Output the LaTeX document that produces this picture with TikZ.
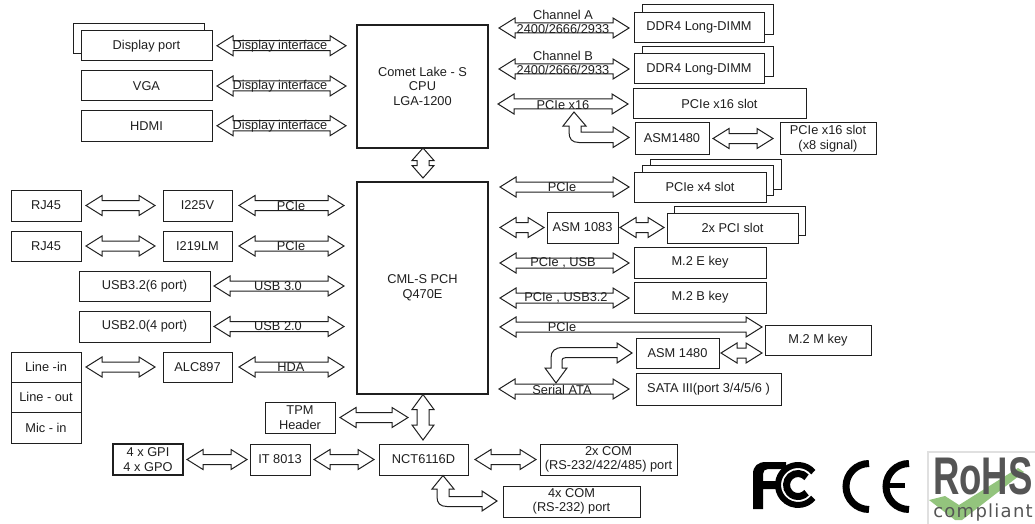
\documentclass[tikz,border=0pt]{standalone}
\usepackage{fontspec}
\usepackage{graphicx}
\setmainfont{Liberation Sans}
\newfontfamily\compfont[LetterSpace=7]{DejaVu Sans}
\usetikzlibrary{calc}
\definecolor{ink}{gray}{0.12}
\definecolor{rohsgray}{HTML}{555555}
\definecolor{rohsgreen}{HTML}{93C47D}
\tikzset{
  x=1pt,y=-1pt,
  every node/.style={font=\fontsize{12.8}{14.5}\selectfont,text=ink,inner sep=0pt,align=center},
  bx/.style={draw=ink,line width=1pt,fill=white},
  hub/.style={draw=ink,line width=2pt,fill=white},
  barrow/.style={draw=ink,line width=1pt,fill=white,line join=miter},
  logostroke/.style={draw=black,line cap=butt},
}
\newcommand\boxat[7][bx]{%
  \path[#1] (#3,#4) rectangle (#5,#6);
  \coordinate (#2w) at (#3,{(#4+#6)/2});
  \node (#2) at ({(#3+#5)/2},{(#4+#6)/2}) {#7};
  \coordinate (#2n) at ({(#3+#5)/2},#4);
  \coordinate (#2s) at ({(#3+#5)/2},#6);
  \coordinate (#2e) at (#5,{(#4+#6)/2});
}
% horizontal double block arrow: from coordinate #1 (+#2) to coordinate #3 (+#4), keeps y of the first, y shift #5
\newcommand\harr[5]{%
  \draw[barrow] let \p1=($(#1)+(#2,#5)$), \p2=($(#3)+(#4,0)$) in
    (\x1,\y1) -- (\x1+16pt,\y1+10pt) -- (\x1+16pt,\y1+5pt) -- (\x2-16pt,\y1+5pt)
    -- (\x2-16pt,\y1+10pt) -- (\x2,\y1) -- (\x2-16pt,\y1-10pt) -- (\x2-16pt,\y1-5pt)
    -- (\x1+16pt,\y1-5pt) -- (\x1+16pt,\y1-10pt) -- cycle;}
% vertical double block arrow: #1 lower tip, #2 upper tip, #3 head length
\newcommand\varr[3]{%
  \draw[barrow] let \p1=($(#1)+(0,0)$), \p2=($(#2)+(0,0)$) in
    (\x1,\y1) -- (\x1+11pt,\y1+#3pt) -- (\x1+6pt,\y1+#3pt) -- (\x1+6pt,\y2-#3pt)
    -- (\x1+11pt,\y2-#3pt) -- (\x1,\y2) -- (\x1-11pt,\y2-#3pt) -- (\x1-6pt,\y2-#3pt)
    -- (\x1-6pt,\y1+#3pt) -- (\x1-11pt,\y1+#3pt) -- cycle;}
\begin{document}
\begin{tikzpicture}
\useasboundingbox (0,0) rectangle (1035,524);
\fill[white] (0,0) rectangle (1035,524);

% ---- left display column
\draw[bx] (73,24) rectangle (204,54);
\boxat{dp}{81}{30.5}{212}{61}{Display port}
\boxat{vga}{81}{71}{212}{101}{VGA}
\boxat{hdmi}{81}{110.5}{212}{141}{HDMI}

% ---- hubs
\boxat[hub]{cpu}{357}{25}{488}{147.5}{Comet Lake - S\\CPU\\LGA-1200}
\boxat[hub]{pch}{357}{182}{488}{393.5}{CML-S PCH\\Q470E}

\harr{dpe}{5}{cpuw}{-11}{0}
\harr{vgae}{5}{cpuw}{-11}{0}
\harr{hdmie}{5}{cpuw}{-11}{0}
\node at (280,46) {Display interface};
\node at (280,86) {Display interface};
\node at (280,126) {Display interface};

\coordinate (cpub) at (423,148);
\coordinate (pcht) at (423,178);
\varr{pcht}{cpub}{12.5}

% ---- memory
\draw[bx] (642,5) rectangle (773,35);
\boxat{dimma}{634}{12.5}{764}{43}{DDR4 Long-DIMM}
\draw[bx] (642,47) rectangle (773,77);
\boxat{dimmb}{634}{54}{764}{84}{DDR4 Long-DIMM}
\coordinate (ca) at (488,28);
\coordinate (cb) at (488,69);
\harr{ca}{11}{dimmaw}{-5}{0}
\harr{cb}{11}{dimmbw}{-5}{0}
\node at (563,14.5) {Channel A};
\node at (563,56) {Channel B};
\node at (563,28.5) {2400/2666/2933};
\node at (563,69.5) {2400/2666/2933};

% ---- PCIe x16
\boxat{xvi}{633}{89}{806}{119}{PCIe x16 slot}
\boxat{asma}{635}{123}{709}{154}{ASM1480}
\boxat{xviii}{780}{123}{876}{154}{PCIe x16 slot\\(x8 signal)}
\coordinate (xl) at (488,104);
\harr{xl}{10}{xviw}{-5}{0}
\node at (563,105) {PCIe x16};
\draw[barrow] (574,112) -- (586,126) -- (581,126) -- (581,132) -- (613,132)
  -- (613,127) -- (629,137.5) -- (613,147.5) -- (613,142.5) -- (579,142.5)
  .. controls (572,142.5) and (569,139) .. (569,132) -- (569,126) -- (563,126) -- cycle;
\harr{asmae}{4}{xviiiw}{-7}{0}

% ---- PCIe x4
\draw[bx] (650,159) rectangle (781,189);
\draw[bx] (642,165) rectangle (773,195);
\boxat{xiv}{634}{172}{766}{202}{PCIe x4 slot}
\coordinate (pa) at (488,187);
\harr{pa}{12}{xivw}{-5}{0}
\node at (562,187.5) {PCIe};

% ---- ASM 1083, PCI
\boxat{asmb}{547}{212}{618}{243}{ASM 1083}
\draw[bx] (674,206) rectangle (805,235);
\boxat{pci}{667}{213}{798}{243}{2x PCI slot}
\coordinate (pb) at (488,227.5);
\harr{pb}{12}{asmbw}{-3}{0}
\harr{asmbe}{2}{pciw}{-3}{0}

% ---- M.2
\boxat{mek}{634}{247}{766}{278}{M.2 E key}
\boxat{mbk}{634}{282}{766}{313}{M.2 B key}
\coordinate (pe) at (488,263);
\coordinate (pf) at (488,298);
\harr{pe}{12}{mekw}{-5}{0}
\harr{pf}{12}{mbkw}{-5}{0}
\node at (563,263) {PCIe , USB};
\node at (566,298) {PCIe , USB3.2};

\boxat{mmk}{765}{325}{871}{355}{M.2 M key}
\coordinate (pg) at (488,327);
\harr{pg}{12}{mmkw}{-3}{0}
\node at (562,327.5) {PCIe};

\boxat{asmc}{636}{338}{719}{368}{ASM 1480}
\coordinate (mmkl) at (765,353);
\harr{asmce}{2}{mmkl}{-3}{0}
\draw[barrow] (556,383) -- (567,368) -- (562,368) -- (562,362)
  .. controls (562,358.5) and (563,357.5) .. (566,357.5) -- (617,357.5) -- (617,363) -- (632,353)
  -- (617,343) -- (617,347.5) -- (563,347.5)
  .. controls (555,347.5) and (551,351) .. (551,358) -- (551,368) -- (545,368) -- cycle;

\boxat{sata}{636}{373}{781}{405}{SATA III(port 3/4/5/6 )}
\coordinate (ph) at (488,389);
\harr{ph}{11}{sataw}{-7}{0}
\node at (562,389.5) {Serial ATA};

% ---- LAN
\boxat{rja}{11}{190}{81}{221}{RJ45}
\boxat{rjb}{11}{231}{81}{261}{RJ45}
\boxat{lana}{163}{190}{232}{221}{I225V}
\boxat{lanb}{163}{231}{232}{261}{I219LM}
\harr{rjae}{5}{lanaw}{-8}{0}
\harr{rjbe}{5}{lanbw}{-8}{0}
\harr{lanae}{7}{pchw}{-13}{0}
\harr{lanbe}{7}{pchw}{-13}{0}
\node at (291,206.5) {PCIe};
\node at (291,246.5) {PCIe};

% ---- USB
\boxat{usba}{79}{271}{210}{301}{USB3.2(6 port)}
\boxat{usbb}{79}{311}{210}{342}{USB2.0(4 port)}
\harr{usbae}{4}{pchw}{-13}{0}
\harr{usbbe}{4}{pchw}{-13}{0}
\node at (278,286) {USB 3.0};
\node at (278,326.5) {USB 2.0};

% ---- audio
\boxat{lin}{11}{352}{81}{382}{Line -in}
\boxat{lout}{11}{382}{81}{412}{Line - out}
\boxat{mic}{11}{412}{81}{443}{Mic - in}
\boxat{alc}{163}{352}{232}{382}{ALC897}
\harr{line}{5}{alcw}{-8}{0}
\harr{alce}{7}{pchw}{-13}{0}
\node at (291,367) {HDA};

% ---- bottom row
\boxat{tpm}{265}{402}{335}{433}{TPM\\Header}
\coordinate (tpmr) at (408,417);
\harr{tpme}{5}{tpmr}{0}{0}
\boxat{nct}{379}{444}{468}{475}{NCT6116D}
\coordinate (pchb) at (423,394.5);
\coordinate (nctt) at (423,440);
\varr{nctt}{pchb}{15}
\boxat{ite}{250}{444}{310}{475}{IT 8013}
\boxat[bx,line width=1.6pt]{gpi}{113}{444}{183}{475}{4 x GPI\\4 x GPO}
\harr{gpie}{4}{itew}{-3}{0}
\harr{itee}{4}{nctw}{-5}{0}
\boxat{coma}{540}{444}{677}{475}{2x COM\\(RS-232/422/485) port}
\boxat{comb}{503}{486}{640}{517}{4x COM\\(RS-232) port}
\harr{ncte}{7}{comaw}{-4}{0}
\draw[barrow] (443,475.5) -- (454,489) -- (449,489) -- (449,496.5) -- (482,496.5) -- (482,491)
  -- (497,501) -- (482,511) -- (482,506.5) -- (447,506.5)
  .. controls (440,506.5) and (437,503) .. (437,497) -- (437,489) -- (432,489) -- cycle;

% ---- logos: FCC
\fill[black] (753,509) -- (753,474) .. controls (753,466) and (758,462) .. (766,462)
  -- (786,462) -- (786,469) -- (768,469) .. controls (765,469) and (763,471) .. (763,474)
  -- (763,481) -- (777,481) -- (777,489) -- (763,489) -- (763,509) -- cycle;
\draw[logostroke,line width=6pt] ({798+20*cos(40)},{485-20*sin(40)}) arc[start angle=40,end angle=320,radius=20pt];
\draw[logostroke,line width=7pt] ({798+11.5*cos(42)},{485-11.5*sin(42)}) arc[start angle=42,end angle=318,radius=11.5pt];
% ---- logos: CE
\draw[logostroke,line width=7pt] (869,463.5) arc[start angle=90,end angle=270,radius=23pt];
\draw[logostroke,line width=7pt] (909,463.5) arc[start angle=90,end angle=270,radius=23pt];
\draw[logostroke,line width=5pt] (888,485) -- (905,485);
% ---- logos: RoHS
\draw[draw=black!12,line width=1.5pt] (928,452) rectangle (1036,525);
\fill[rohsgreen] (929,500) -- (945,496) -- (959,505) -- (1018,468) -- (1024,472) -- (962,520) -- (955,520) -- cycle;
\node[font=\fontsize{53}{53}\selectfont\bfseries,text=rohsgray] (rohs) at (983,476.5) {\scalebox{0.69}[1]{RoHS}};
\node[font=\compfont\fontsize{18}{19}\selectfont,text=rohsgray] (compl) at (983,512.5) {compliant};
\end{tikzpicture}
\end{document}
